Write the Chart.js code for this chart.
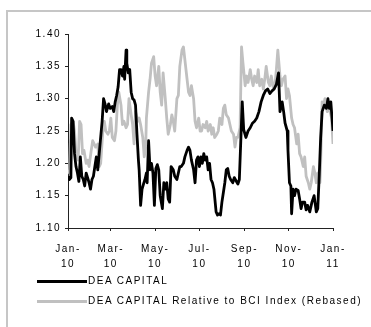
<!DOCTYPE html>
<html>
<head>
<meta charset="utf-8">
<script src="https://cdn.jsdelivr.net/npm/chart.js@4/dist/chart.umd.min.js"></script>
<style>
  html, body { margin: 0; padding: 0; background: #fff; }
  #wrap { position: relative; width: 371px; height: 327px; overflow: hidden; background: #fff; }
  #frame { position: absolute; left: 6px; top: 10px; width: 400px; height: 400px;
           border-left: 2px solid #c6c6c6; border-top: 2px solid #c6c6c6; }
  canvas { position: absolute; left: 0; top: 0; }
  .leg { position: absolute; left: 37px; height: 14px; font-family: "Liberation Sans", Arial, sans-serif;
         font-size: 10px; letter-spacing: 1.5px; color: #000; white-space: nowrap; }
  .leg .ln { position: absolute; left: 0; width: 50px; height: 3px; top: 5.5px; }
  .leg .tx { position: absolute; left: 51px; top: 0; line-height: 14px; }
</style>
</head>
<body>
<div id="wrap">
  <div id="frame"></div>
  <canvas id="c" width="371" height="327"></canvas>
  <div class="leg" id="leg1" style="top:274px"><div class="ln" style="background:#000"></div><div class="tx"></div></div>
  <div class="leg" id="leg2" style="top:294px"><div class="ln" style="background:#c0c0c0"></div><div class="tx"></div></div>
</div>
<script>
// ---- data (day of year from 1 Jan 2010, value) ----
const seriesNames = ["DEA CAPITAL", "DEA CAPITAL Relative to BCI Index (Rebased)"];

const deaDays = [0,2,4,5,7,9,11,13,15,17,19,21,23,25,27,29,31,33,35,37,39,41,43,45,47,49,51,53,56,58,61,63,65,67,69,71,73,75,77,78,80,81,83,85,87,89,91,93,95,97,98,100,102,104,106,108,109,111,113,115,117,119,121,123,125,127,130,132,134,136,138,140,142,145,147,150,152,154,156,159,161,164,166,168,170,173,175,177,179,181,183,185,187,189,191,193,195,197,199,201,204,206,208,210,212,214,216,218,220,222,224,227,229,232,234,236,240,242,245,248,251,254,257,260,263,266,269,272,275,278,281,284,287,290,292,295,297,299,302,303,305,307,308,310,312,314,317,319,321,323,326,328,330,333,336,339,342,344,346,348,350,353,356,358,360,362,365];
const deaValues = [1.180,1.175,1.178,1.270,1.265,1.215,1.195,1.185,1.172,1.210,1.180,1.175,1.165,1.185,1.178,1.170,1.160,1.175,1.180,1.195,1.210,1.190,1.215,1.240,1.265,1.300,1.292,1.280,1.292,1.285,1.288,1.280,1.295,1.305,1.318,1.345,1.345,1.335,1.350,1.330,1.375,1.355,1.340,1.345,1.310,1.300,1.298,1.290,1.245,1.205,1.190,1.135,1.160,1.168,1.175,1.185,1.170,1.235,1.190,1.200,1.185,1.135,1.192,1.198,1.190,1.150,1.130,1.170,1.160,1.170,1.145,1.140,1.195,1.190,1.180,1.175,1.185,1.195,1.195,1.200,1.210,1.220,1.225,1.220,1.205,1.190,1.170,1.205,1.210,1.195,1.210,1.200,1.215,1.205,1.210,1.190,1.200,1.175,1.170,1.160,1.125,1.120,1.122,1.120,1.140,1.155,1.170,1.190,1.192,1.180,1.175,1.170,1.178,1.172,1.168,1.175,1.295,1.252,1.240,1.250,1.255,1.262,1.265,1.270,1.280,1.295,1.305,1.312,1.315,1.308,1.312,1.315,1.322,1.340,1.280,1.295,1.280,1.262,1.250,1.220,1.170,1.165,1.122,1.160,1.150,1.160,1.158,1.145,1.130,1.140,1.140,1.128,1.135,1.125,1.140,1.150,1.125,1.130,1.180,1.240,1.280,1.290,1.285,1.300,1.285,1.295,1.250];

const relDays = [0,2,4,7,9,11,14,16,18,20,22,25,27,29,32,34,36,38,41,43,45,48,50,52,55,57,59,61,64,66,68,70,73,75,77,80,82,84,87,89,91,93,96,98,100,103,105,107,108,111,113,115,118,120,122,125,127,129,131,134,136,138,141,143,145,147,150,152,154,157,159,161,164,166,168,170,173,175,177,180,182,184,186,189,191,193,196,198,200,202,205,207,209,212,214,216,218,221,223,225,228,230,232,234,237,239,241,244,246,248,251,253,255,257,260,262,264,267,269,271,273,276,278,280,283,285,287,289,292,294,296,299,301,303,305,308,310,312,315,317,319,321,324,326,328,331,333,335,338,340,342,344,347,348,350,352,354,357,360,363,365];
const relValues = [1.190,1.185,1.260,1.265,1.250,1.215,1.205,1.265,1.260,1.215,1.220,1.200,1.205,1.195,1.220,1.235,1.230,1.225,1.230,1.195,1.200,1.250,1.265,1.250,1.245,1.250,1.270,1.240,1.235,1.250,1.290,1.310,1.290,1.260,1.265,1.255,1.260,1.300,1.275,1.260,1.230,1.280,1.265,1.270,1.260,1.240,1.210,1.225,1.270,1.310,1.330,1.355,1.365,1.335,1.320,1.350,1.310,1.290,1.340,1.300,1.270,1.245,1.260,1.275,1.265,1.250,1.300,1.305,1.350,1.375,1.380,1.360,1.330,1.310,1.305,1.320,1.300,1.265,1.255,1.270,1.250,1.250,1.260,1.255,1.265,1.250,1.260,1.245,1.255,1.240,1.245,1.250,1.270,1.260,1.285,1.290,1.275,1.270,1.260,1.250,1.245,1.225,1.240,1.240,1.255,1.380,1.355,1.320,1.335,1.325,1.345,1.330,1.320,1.335,1.325,1.345,1.320,1.330,1.315,1.330,1.350,1.325,1.320,1.335,1.315,1.320,1.345,1.375,1.335,1.320,1.330,1.335,1.300,1.315,1.305,1.270,1.260,1.255,1.230,1.245,1.215,1.210,1.195,1.210,1.180,1.170,1.160,1.170,1.195,1.185,1.170,1.185,1.170,1.200,1.295,1.290,1.300,1.280,1.285,1.270,1.230];

const tickDays = [0, 59, 120, 181, 243, 304, 365];
const tickLabels = [["Jan-","10"],["Mar-","10"],["May-","10"],["Jul-","10"],["Sep-","10"],["Nov-","10"],["Jan-","11"]];
const yTicks = [1.10, 1.15, 1.20, 1.25, 1.30, 1.35, 1.40];

// ---- build ----
document.querySelector('#leg1 .tx').textContent = seriesNames[0];
document.querySelector('#leg2 .tx').textContent = seriesNames[1];

const toPts = (d, v) => d.map((x, i) => ({ x: x, y: v[i] }));
const FONT = { family: "'Liberation Sans', Arial, sans-serif", size: 10, lineHeight: 1.5 };

const spacing = {
  id: 'spacing',
  beforeDraw(chart) { chart.ctx.letterSpacing = '1.5px'; }
};

new Chart(document.getElementById('c'), {
  type: 'line',
  data: {
    datasets: [
      { label: seriesNames[0], data: toPts(deaDays, deaValues), borderColor: '#000000', borderWidth: 2.8,
        pointRadius: 0, tension: 0, borderJoinStyle: 'round', fill: false },
      { label: seriesNames[1], data: toPts(relDays, relValues), borderColor: '#c0c0c0', borderWidth: 2.8,
        pointRadius: 0, tension: 0, borderJoinStyle: 'round', fill: false }
    ]
  },
  options: {
    responsive: false,
    animation: false,
    events: [],
    layout: { padding: { left: 0, top: 34, right: 38, bottom: 0 } },
    plugins: { legend: { display: false }, tooltip: { enabled: false } },
    scales: {
      x: {
        type: 'linear', min: 0, max: 365,
        afterBuildTicks(s) { s.ticks = tickDays.map(v => ({ value: v })); },
        afterFit(s) { s.height = 99; },
        ticks: {
          autoSkip: false, maxRotation: 0, minRotation: 0, padding: 11, color: '#000', font: FONT,
          callback(v) { const i = tickDays.indexOf(v); return i >= 0 ? tickLabels[i] : ''; }
        },
        grid: { drawOnChartArea: false, drawTicks: true, tickLength: 3, color: '#222' },
        border: { color: '#222', width: 1 }
      },
      y: {
        min: 1.10, max: 1.40,
        afterBuildTicks(s) { s.ticks = yTicks.map(v => ({ value: v })); },
        afterFit(s) { s.width = 68; },
        ticks: { padding: 4, color: '#000', font: FONT, callback: v => Number(v).toFixed(2) },
        grid: { drawOnChartArea: false, drawTicks: true, tickLength: 3, color: '#222' },
        border: { color: '#222', width: 1 }
      }
    }
  },
  plugins: [spacing]
});
</script>
</body>
</html>
